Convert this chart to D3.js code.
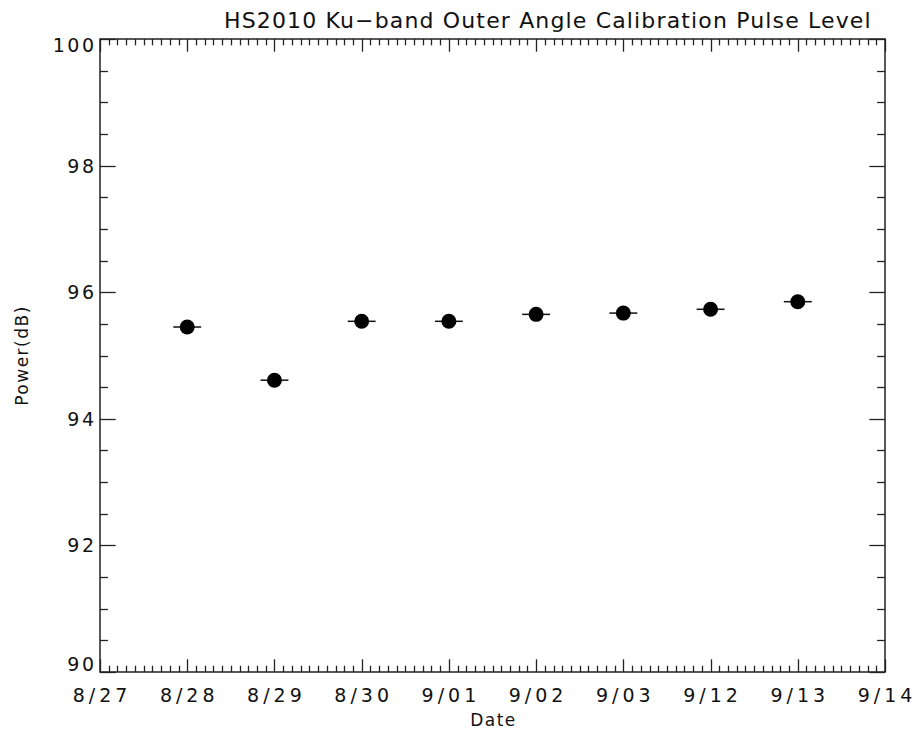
<!DOCTYPE html>
<html>
<head>
<meta charset="utf-8">
<script src="https://cdn.jsdelivr.net/npm/d3@7"></script>
<style>
  html, body { margin: 0; padding: 0; background: #fff; }
  svg { display: block; }
  text { font-family: "DejaVu Sans", sans-serif; fill: #111; }
</style>
</head>
<body>
<svg id="chart" width="918" height="742"></svg>
<script>
// Axis tick labels along the date axis (one slot per tick)
const dateLabels = ["8/27", "8/28", "8/29", "8/30", "9/01", "9/02", "9/03", "9/12", "9/13", "9/14"];
// Measurement dates and their calibration pulse levels (dB)
const pointDates = ["8/28", "8/29", "8/30", "9/01", "9/02", "9/03", "9/12", "9/13"];
const powerValues = [95.45, 94.61, 95.54, 95.54, 95.65, 95.67, 95.73, 95.85];
// Horizontal bar half-width, in date slots
const barHalfWidth = [0.16, 0.16, 0.16, 0.16, 0.16, 0.16, 0.16, 0.16];
const yTicks = [90, 92, 94, 96, 98, 100];

(function () {
const svg = d3.select("#chart");
const plotL = 100, plotR = 885, plotT = 39, plotB = 672;

const x = d3.scaleLinear().domain([0, dateLabels.length - 1]).range([plotL, plotR]);
const y = d3.scaleLinear().domain([90, 100]).range([plotB, plotT]);

const axisColor = "#222";
const g = svg.append("g");

// Frame
g.append("rect")
  .attr("x", plotL).attr("y", plotT)
  .attr("width", plotR - plotL).attr("height", plotB - plotT)
  .attr("fill", "none").attr("stroke", axisColor).attr("stroke-width", 1.5);

// X ticks: majors at each date slot, 10 subdivisions between them, on bottom and top
const xMajorLen = 12.7, xMinorLen = 6.3;
const xMinor = d3.range(0, (dateLabels.length - 1) * 10 + 1).map(k => k / 10);
xMinor.forEach(v => {
  const isMajor = Math.abs(v - Math.round(v)) < 1e-6;
  const len = isMajor ? xMajorLen : xMinorLen;
  const px = Math.round(x(v)) + 0.5;
  g.append("line").attr("x1", px).attr("x2", px).attr("y1", plotB).attr("y2", plotB - len)
    .attr("stroke", axisColor).attr("stroke-width", 1.3);
  g.append("line").attr("x1", px).attr("x2", px).attr("y1", plotT).attr("y2", plotT + len)
    .attr("stroke", axisColor).attr("stroke-width", 1.3);
});

// Y ticks: majors every 2 dB, minors every 0.5 dB, on left and right
const yMajorLen = 15.7, yMinorLen = 7.9;
d3.range(0, 21).map(k => 90 + k * 0.5).forEach(v => {
  const isMajor = Math.abs(v / 2 - Math.round(v / 2)) < 1e-6;
  const len = isMajor ? yMajorLen : yMinorLen;
  const py = Math.round(y(v)) + 0.5;
  g.append("line").attr("x1", plotL).attr("x2", plotL + len).attr("y1", py).attr("y2", py)
    .attr("stroke", axisColor).attr("stroke-width", 1.3);
  g.append("line").attr("x1", plotR).attr("x2", plotR - len).attr("y1", py).attr("y2", py)
    .attr("stroke", axisColor).attr("stroke-width", 1.3);
});

// X tick labels
const xls = 4;
g.selectAll("text.xl").data(dateLabels).enter().append("text")
  .attr("class", "xl")
  .attr("x", (d, i) => x(i) + xls / 2)
  .attr("y", 702)
  .attr("text-anchor", "middle")
  .attr("font-size", 19)
  .attr("letter-spacing", xls)
  .text(d => d);

// Y tick labels (end labels kept inside the frame)
const yls = 2.5;
g.selectAll("text.yl").data(yTicks).enter().append("text")
  .attr("class", "yl")
  .attr("x", 94 + yls)
  .attr("y", d => y(d) + 7 + (d === 100 ? 6 : 0) + (d === 90 ? -8 : 0))
  .attr("text-anchor", "end")
  .attr("font-size", 19)
  .attr("letter-spacing", yls)
  .text(d => d);

// Title and axis titles
svg.append("text").attr("x", 224).attr("y", 28)
  .attr("text-anchor", "start").attr("font-size", 22).attr("letter-spacing", 1.15)
  .text("HS2010 Ku\u2212band Outer Angle Calibration Pulse Level");
svg.append("text").attr("x", (plotL + plotR) / 2 + 1).attr("y", 726)
  .attr("text-anchor", "middle").attr("font-size", 17).attr("letter-spacing", 1.5).text("Date");
svg.append("text")
  .attr("transform", `translate(28, ${(plotT + plotB) / 2}) rotate(-90)`)
  .attr("text-anchor", "middle").attr("font-size", 17).attr("letter-spacing", 1.5).text("Power(dB)");

// Data points with horizontal bars
const pts = pointDates.map((d, i) => ({ idx: dateLabels.indexOf(d), v: powerValues[i], hw: barHalfWidth[i] }));
const pg = svg.append("g");
pg.selectAll("line.bar").data(pts).enter().append("line")
  .attr("class", "bar")
  .attr("x1", d => x(d.idx - d.hw)).attr("x2", d => x(d.idx + d.hw))
  .attr("y1", d => y(d.v)).attr("y2", d => y(d.v))
  .attr("stroke", "#111").attr("stroke-width", 1.5);
pg.selectAll("circle").data(pts).enter().append("circle")
  .attr("cx", d => x(d.idx)).attr("cy", d => y(d.v))
  .attr("r", 7.5).attr("fill", "#000");
})();
</script>
</body>
</html>
